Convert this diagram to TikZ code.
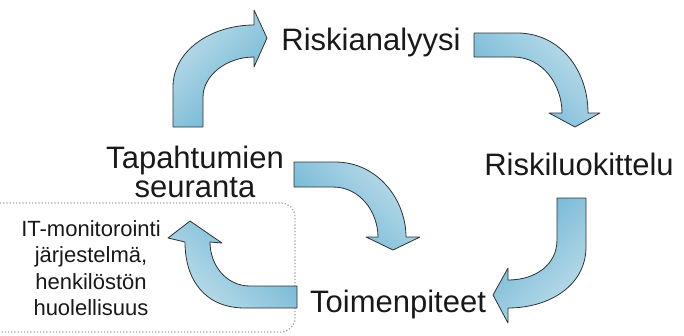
\documentclass[tikz,border=0pt]{standalone}
\usepackage{fontspec}
\setmainfont{Liberation Sans}
\definecolor{arrowblue}{RGB}{104,178,210}
\definecolor{arrowpale}{RGB}{190,221,234}
\definecolor{arrowline}{RGB}{45,50,55}
\definecolor{textdark}{RGB}{25,25,25}
\definecolor{boxdots}{RGB}{160,160,160}

\begin{document}
\begin{tikzpicture}[x=1pt,y=-1pt]
                        \tikzstyle{every node}=[inner sep=0,text=textdark]
                        \tikzstyle{big}=[font=\fontsize{31}{29}\selectfont]
                        \tikzstyle{small}=[font=\fontsize{22}{26.5}\selectfont,align=center]
                        \tikzstyle{blockarrow}=[draw=arrowline,line width=0.8,line join=round,top color=arrowpale,bottom color=arrowblue]
                        \tikzstyle{boxline}=[draw=boxdots,dotted,line width=1.2,rounded corners=14]
                        \useasboundingbox (0,0) rectangle (684,335);
                        {
                            \draw[boxline] (0,203) -- (295,203) -- (295,332) -- (0,332);

                            % seuranta -> analyysi
                            \draw[blockarrow,shading angle=45] (173,127) -- (173,87)
                                .. controls (173,50) and (212,25) .. (254,25) -- (254,10) -- (267,38) -- (254,67) -- (254,57)
                                .. controls (226,57) and (203,76) .. (203,97) -- (203,127) -- cycle;
                            % analyysi -> luokittelu
                            \draw[blockarrow,shading angle=-45] (474,33) -- (517,33)
                                .. controls (560,33) and (588,70) .. (588,113) -- (600,113) -- (575,127) -- (549,113) -- (562,113)
                                .. controls (562,85) and (543,57) .. (513,57) -- (474,57) -- cycle;
                            % luokittelu -> toimenpiteet
                            \draw[blockarrow,shading angle=-135] (557,198) -- (586,198) -- (586,247)
                                .. controls (586,285) and (550,308) .. (508,308) -- (508,323) -- (493,295) -- (508,268) -- (508,280)
                                .. controls (535,280) and (557,265) .. (557,240) -- cycle;
                            % toimenpiteet -> monitorointi
                            \draw[blockarrow,shading angle=135] (297,286) -- (297,308) -- (245,308)
                                .. controls (205,308) and (185,280) .. (185,242) -- (168,238) -- (190,221) -- (222,243) -- (210,242)
                                .. controls (210,265) and (226,286) .. (250,286) -- cycle;
                            % seuranta -> toimenpiteet
                            \draw[blockarrow,shading angle=-45] (294,162) -- (335,162)
                                .. controls (378,162) and (406,200) .. (406,237) -- (420,237) -- (393,250) -- (366,237) -- (378,237)
                                .. controls (378,212) and (360,187) .. (333,187) -- (294,187) -- cycle;

                            \node[big,anchor=base] (analyysi) at (371,50) {Riskianalyysi};
                            \node[big,anchor=base] (luokittelu) at (579,175) {Riskiluokittelu};
                            \node[big,anchor=base] (toimenpiteet) at (398,312) {Toimenpiteet};
                            \node[big,align=center,anchor=north] (seuranta) at (195,146) {Tapahtumien\\seuranta};
                            \node[small,anchor=north] (monitorointi) at (91,220) {IT-monitorointi\\järjestelmä,\\henkilöstön\\huolellisuus};
                        }
                    \end{tikzpicture}
\end{document}
